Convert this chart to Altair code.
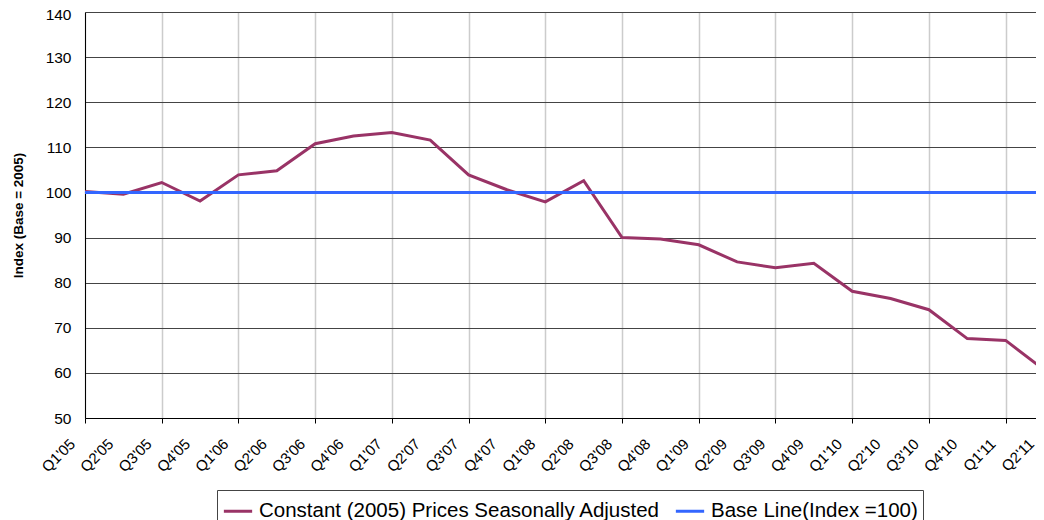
import altair as alt
import pandas as pd

quarters = ["Q1'05", "Q2'05", "Q3'05", "Q4'05", "Q1'06", "Q2'06", "Q3'06", "Q4'06",
            "Q1'07", "Q2'07", "Q3'07", "Q4'07", "Q1'08", "Q2'08", "Q3'08", "Q4'08",
            "Q1'09", "Q2'09", "Q3'09", "Q4'09", "Q1'10", "Q2'10", "Q3'10", "Q4'10",
            "Q1'11", "Q2'11"]
constant_prices = [100.2, 99.6, 102.2, 98.1, 103.9, 104.8, 110.8, 112.5,
                   113.3, 111.6, 103.9, 100.6, 97.9, 102.6, 90.0, 89.7,
                   88.4, 84.6, 83.3, 84.3, 78.1, 76.5, 74.0, 67.6,
                   67.2, 60.7]
base_line = [100, 100, 100, 100, 100, 100, 100, 100,
             100, 100, 100, 100, 100, 100, 100, 100,
             100, 100, 100, 100, 100, 100, 100, 100,
             100, 100]
y_ticks = [50, 60, 70, 80, 90, 100, 110, 120, 130, 140]
series_names = ["Constant (2005) Prices Seasonally Adjusted", "Base Line(Index =100)"]
series_colors = ["#993366", "#3366FF"]

rows = []
for q, v in zip(quarters, constant_prices):
    rows.append({"quarter": q, "value": v, "series": series_names[0]})
for q, v in zip(quarters, base_line):
    rows.append({"quarter": q, "value": v, "series": series_names[1]})
df = pd.DataFrame(rows)

grid_test = "substring(datum.value, 1, 2) == '1' || substring(datum.value, 1, 2) == '3'"

chart = alt.Chart(df).mark_line(strokeWidth=3).encode(
    x=alt.X("quarter:N", sort=quarters,
            scale=alt.Scale(type="point", padding=0),
            axis=alt.Axis(title=None, labelAngle=-45, labelAlign="right", labelBaseline="middle",
                          labelFontSize=15, labelColor="black", labelPadding=18, labelOffset=-13,
                          domainColor="black", domainWidth=1, tickSize=5,
                          tickColor={"condition": {"test": grid_test, "value": "black"}, "value": "transparent"},
                          grid=True, gridWidth=1.5,
                          gridColor={"condition": {"test": grid_test, "value": "#cccccc"}, "value": "transparent"})),
    y=alt.Y("value:Q", scale=alt.Scale(domain=[50, 140], nice=False, zero=False),
            axis=alt.Axis(values=y_ticks, title="Index (Base = 2005)", titleFontSize=13.5,
                          titleFontWeight="bold", titleColor="black", titleX=-67, titleY=203,
                          titleAngle=-90, titleAlign="center", titleBaseline="middle",
                          labelFontSize=15.5, labelColor="black", ticks=False, labelPadding=14,
                          labelOffset={"condition": {"test": "datum.value == 140", "value": 2}, "value": 0},
                          gridColor="#444444", gridWidth=1, domainColor="black")),
    color=alt.Color("series:N", scale=alt.Scale(domain=series_names, range=series_colors),
                    legend=alt.Legend(title=None, orient="none", legendX=132, legendY=478,
                                      direction="horizontal", symbolType="stroke", symbolSize=800,
                                      symbolStrokeWidth=3, labelFontSize=20.5, labelColor="black",
                                      labelOffset=5, strokeColor="#444444", padding=5,
                                      columnPadding=8, labelLimit=0, fillColor="white")),
).properties(
    width=959, height=406,
    padding={"left": 77, "top": 4, "right": -8, "bottom": 102},
    autosize="none",
).configure(
    font="Liberation Sans",
).configure_view(stroke=None)

chart.save("out.html", embed_options={"renderer": "svg", "actions": False})
